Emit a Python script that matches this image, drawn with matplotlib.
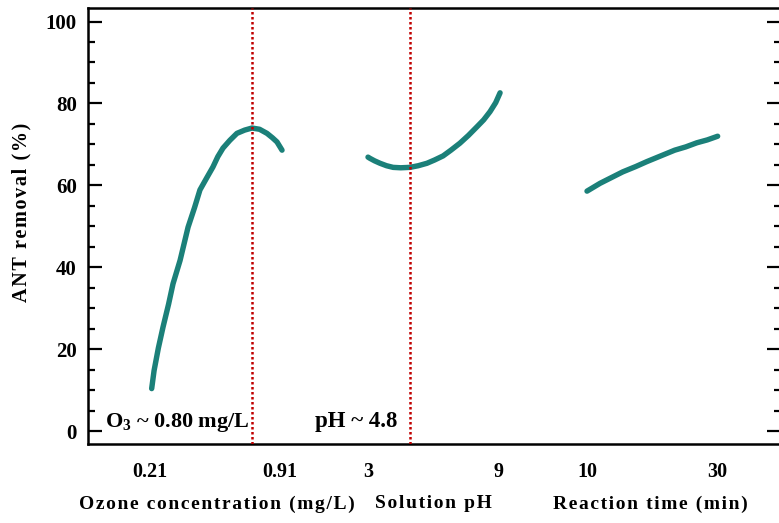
import numpy as np
import matplotlib
matplotlib.use('Agg')
import matplotlib.pyplot as plt
from matplotlib.ticker import MultipleLocator

plt.rcParams['font.family'] = ['Liberation Serif', 'DejaVu Serif']
plt.rcParams['font.weight'] = 'bold'
plt.rcParams['axes.labelweight'] = 'bold'
plt.rcParams['mathtext.fontset'] = 'custom'
plt.rcParams['mathtext.rm'] = 'Liberation Serif:bold'
plt.rcParams['mathtext.bf'] = 'Liberation Serif:bold'
plt.rcParams['mathtext.default'] = 'bf'

# ozone concentration (mg/L) vs ANT removal (%)
ozone = [0.219, 0.232, 0.255, 0.28, 0.31, 0.334, 0.372, 0.415, 0.45, 0.479, 0.515, 0.549,
         0.575, 0.603, 0.64, 0.678, 0.72, 0.759, 0.80, 0.84, 0.87, 0.894, 0.921]
ozone_rem = [10.4, 14.8, 20.3, 25.4, 31.0, 36.0, 41.7, 49.8, 54.6, 58.9, 61.8, 64.5,
             67.0, 69.1, 71.0, 72.7, 73.5, 74.0, 73.7, 72.7, 71.6, 70.6, 68.6]

# solution pH vs ANT removal (%)
ph = [3.0, 3.09, 3.3, 3.55, 3.85, 4.15, 4.5, 4.92, 5.3, 5.70, 6.05, 6.44, 6.8, 7.21,
      7.6, 7.99, 8.3, 8.59, 8.85, 9.05]
ph_rem = [66.9, 66.6, 66.0, 65.4, 64.8, 64.4, 64.3, 64.4, 64.8, 65.4, 66.2, 67.2, 68.6,
          70.3, 72.2, 74.3, 76.0, 78.0, 80.2, 82.6]

# reaction time (min) vs ANT removal (%)
rtime = [10, 12, 13.5, 15.5, 17.5, 19.2, 21.5, 23.5, 25.2, 26.9, 28.5, 30.1]
time_rem = [58.6, 60.5, 61.7, 63.3, 64.6, 65.8, 67.3, 68.6, 69.4, 70.4, 71.1, 72.0]

ozone_ticks = [0.21, 0.91]
ph_ticks = [3, 9]
time_ticks = [10, 30]
ozone_opt = 0.76
ph_opt = 4.92

teal = '#1b8079'
red = '#c00000'
W, H = 779, 523


def spaced(s):
    return '\u200a'.join(s)


fig = plt.figure(figsize=(W / 100, H / 100), dpi=100)
bottom = 1 - 443.5 / H
top = 1 - 8 / H
ax = fig.add_axes([88 / W, bottom, (781 - 88) / W, top - bottom])
ax.set_ylim(-3, 103.3)
ax.set_xlim(0, 1)
ax.set_xticks([])
ax.yaxis.set_major_locator(MultipleLocator(20))
ax.yaxis.set_minor_locator(MultipleLocator(5))
ax.tick_params(axis='y', which='both', direction='in', right=True, width=1.6,
               labelsize=15, pad=8)
ax.tick_params(axis='y', which='major', length=10)
ax.tick_params(axis='y', which='minor', length=5)
for s in ['left', 'top', 'bottom']:
    ax.spines[s].set_linewidth(1.8)
ax.spines['right'].set_visible(False)
ax.set_ylabel(spaced('ANT removal (%)'), fontsize=14.5, fontweight='bold')
ax.yaxis.set_label_coords(-0.081, 0.53)

segs = [
    (88, 346, (-0.1239, 1.2655), ozone, ozone_rem, ozone_ticks, ['0.21', '0.91'],
     'Ozone concentration (mg/L)'),
    (346, 520, (1.992, 9.963), ph, ph_rem, ph_ticks, ['3', '9'], 'Solution pH'),
    (520, 781, (-0.308, 39.846), rtime, time_rem, time_ticks, ['10', '30'], 'Reaction time (min)'),
]
sub = []
for x0, x1, xl, xs, ys, tk, tl, lab in segs:
    a = fig.add_axes([x0 / W, bottom, (x1 - x0) / W, top - bottom], sharey=ax)
    a.patch.set_visible(False)
    for s in a.spines.values():
        s.set_visible(False)
    a.set_xlim(*xl)
    a.plot(xs, ys, color=teal, lw=3.9, solid_capstyle='round', solid_joinstyle='round')
    a.set_xticks(tk)
    a.set_xticklabels(tl)
    a.tick_params(axis='x', length=0, pad=13, labelsize=14.5)
    a.tick_params(axis='y', which='both', left=False, right=False, labelleft=False)
    a.set_xlabel(spaced(lab), fontsize=14, fontweight='bold', labelpad=10)
    sub.append(a)

sub[0].axvline(ozone_opt, color=red, lw=1.8, ls=(0, (1, 1)))
sub[1].axvline(ph_opt, color=red, lw=1.8, ls=(0, (1, 1)))
sub[0].annotate('O$_{3}$ ~ 0.80 mg/L', xy=(ozone_opt, 1.0), xytext=(-2, 0),
                textcoords='offset points', ha='right', va='baseline', fontsize=16)
sub[1].annotate('pH ~ 4.8', xy=(ph_opt, 1.0), xytext=(-9, 0),
                textcoords='offset points', ha='right', va='baseline', fontsize=16.5)

fig.savefig('out.png', dpi=100)
